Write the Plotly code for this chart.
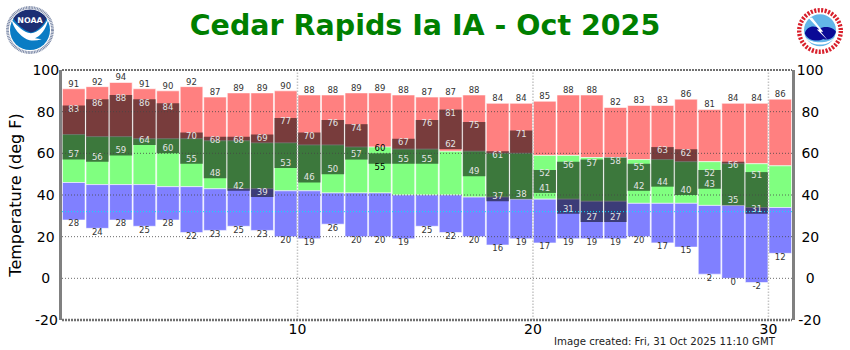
import base64
import plotly.graph_objects as go

days = list(range(1, 32))
record_high = [91,92,94,91,90,92,87,89,89,90,88,88,89,89,88,87,87,88,84,84,85,88,88,82,83,83,86,81,84,84,86]
normal_high = [69,68,68,67,67,67,66,66,65,65,64,64,63,63,62,62,61,61,60,60,59,59,58,58,57,57,56,56,55,55,54]
normal_low = [46,45,45,45,44,44,43,43,43,42,42,41,41,41,40,40,40,39,39,38,38,38,37,37,36,36,36,35,35,34,34]
record_low = [28,24,28,25,28,22,23,25,23,20,19,26,20,20,19,25,22,20,16,19,17,19,19,19,20,17,15,2,0,-2,12]
obs_high = [83,86,88,86,84,70,68,68,69,77,70,76,74,60,67,76,81,75,61,71,52,56,57,58,55,63,62,52,56,51,None]
obs_low = [57,56,59,64,60,55,48,42,39,53,46,50,57,55,55,55,62,49,37,38,41,31,27,27,42,44,40,43,35,31,None]
y_ticks = [-20,0,20,40,60,80,100]
x_ticks = [10,20,30]
title = "Cedar Rapids Ia IA - Oct 2025"
footer = "Image created: Fri, 31 Oct 2025 11:10 GMT"

FONT = "DejaVu Sans"
X = [d - 0.5 for d in days]
W, H = 850, 350
L, R, T, B = 62, 58, 70, 30
edge = dict(color="rgba(255,255,255,0.55)", width=1)

def band(top, bottom, color):
    return go.Bar(x=X, y=[a - b for a, b in zip(top, bottom)], base=bottom, width=0.96,
                  marker=dict(color=color, line=edge), hoverinfo="skip", showlegend=False)

fig = go.Figure()
fig.add_trace(band(record_high, normal_high, "#FF8080"))
fig.add_trace(band(normal_high, normal_low, "#80FF80"))
fig.add_trace(band(normal_low, record_low, "#8080FF"))

ox = [x for x, h in zip(X, obs_high) if h is not None]
oh = [h for h in obs_high if h is not None]
ol = [l for l in obs_low if l is not None]
fig.add_trace(go.Bar(x=ox, y=[a - b for a, b in zip(oh, ol)], base=ol, width=0.96,
                     marker=dict(color="rgba(0,0,0,0.53)", line=dict(width=0)),
                     hoverinfo="skip", showlegend=False))

def labels(xs, ys, pos, color):
    fig.add_trace(go.Scatter(x=xs, y=ys, text=[str(v) for v in ys], mode="text",
                             textposition=pos, textfont=dict(family=FONT, size=8.5, color=color),
                             hoverinfo="skip", showlegend=False, cliponaxis=False))

labels(X, record_high, "top center", "#333333")
labels(X, record_low, "bottom center", "#333333")
narrow = [a - b <= 5 for a, b in zip(oh, ol)]
labels(ox, oh, ["top center" if n else "bottom center" for n in narrow],
       ["#000000" if n else "#E4E4E4" for n in narrow])
labels(ox, ol, ["bottom center" if n else "top center" for n in narrow],
       ["#000000" if n else "#E4E4E4" for n in narrow])

# right-hand axis carrier
fig.add_trace(go.Scatter(x=[X[0], X[-1]], y=[y_ticks[0], y_ticks[-1]], yaxis="y2", mode="none",
                         hoverinfo="skip", showlegend=False))

# grid lines above the bars
for v in y_ticks[1:-1]:
    fig.add_shape(type="line", xref="x", yref="y", x0=0, x1=31, y0=v, y1=v, layer="above",
                  line=dict(color="rgba(70,70,70,0.8)", width=1, dash="1px,2px"))
for v in x_ticks:
    fig.add_shape(type="line", xref="x", yref="y", x0=v, x1=v, y0=-20, y1=100, layer="above",
                  line=dict(color="rgba(190,190,190,0.9)", width=1.5, dash="1.5px,1.5px"))
fig.add_shape(type="line", xref="x", yref="y", x0=0, x1=31, y0=32, y1=32, layer="above",
              line=dict(color="#00E5FF", width=1, dash="1px,2px"))
fig.add_shape(type="line", xref="paper", yref="paper", x0=0, x1=1, y0=1, y1=1, layer="above",
              line=dict(color="#707070", width=2, dash="2px,1px"))
fig.add_shape(type="line", xref="paper", yref="paper", x0=0, x1=1, y0=0, y1=0, layer="above",
              line=dict(color="#707070", width=2.5, dash="2px,1px"))

noaa = """<svg xmlns='http://www.w3.org/2000/svg' viewBox='0 0 60 60'>
<circle cx='30' cy='30' r='29.5' fill='#fff'/>
<circle cx='30' cy='30' r='27' fill='none' stroke='#7d8aa8' stroke-width='3.4' stroke-dasharray='1.2 .7'/>
<circle cx='30' cy='30' r='24' fill='#0a7cc4'/>
<path d='M10 16 A24 24 0 0 1 50 16 C46 25 38 32 31 33 C23 31 15 24 10 16Z' fill='#1c2f74'/>
<path d='M8 18 C15 25 22 33 31 34 C40 33 47 26 52 16 C50 29 42 38 36 40 L44 41 C37 43 30 43 26 41 C18 37 10 28 8 18Z' fill='#fff'/>
<text x='30' y='22' font-family='DejaVu Sans' font-weight='bold' font-size='9.5' fill='#fff' text-anchor='middle'>NOAA</text>
</svg>"""
nws = """<svg xmlns='http://www.w3.org/2000/svg' viewBox='0 0 60 60'>
<circle cx='30' cy='30' r='29.5' fill='#fff'/>
<circle cx='30' cy='30' r='26' fill='none' stroke='#d8202c' stroke-width='5.5' stroke-dasharray='2.6 1.8'/>
<circle cx='30' cy='29' r='20' fill='#63b5e8'/>
<path d='M11 33 C13 24 23 22 29 27 C36 23 47 25 50 31 C47 40 40 42 34 40 C27 44 15 42 11 33Z' fill='#0a0a96'/>
<path d='M16 14 L29 28 L26 28 L40 42 L31 31 L34 31 L20 13Z' fill='#fff'/>
<path d='M12 38 C20 50 40 50 48 38 C40 46 20 46 12 38Z' fill='#fff'/>
</svg>"""

def logo(svg, cx, cy, r):
    uri = "data:image/svg+xml;base64," + base64.b64encode(svg.encode()).decode()
    pw, ph = W - L - R, H - T - B
    return dict(source=uri, xref="paper", yref="paper", xanchor="left", yanchor="top",
                x=(cx - r - L) / pw, y=(H - B - (cy - r)) / ph, sizex=2 * r / pw, sizey=2 * r / ph,
                sizing="stretch", layer="above")

PAD = {100: "", 80: "\u2004", 60: "\u2004", 40: "\u2004", 20: "\u2004", 0: "\u2007", -20: "\u200A"}
axis_line = dict(showline=True, linecolor="#808080", linewidth=3, mirror=False)
fig.update_layout(
    width=W, height=H, margin=dict(l=L, r=R, t=T, b=B, pad=0),
    paper_bgcolor="white", plot_bgcolor="white", barmode="overlay", showlegend=False,
    font=dict(family=FONT, color="#000000"),
    title=dict(text=f"<b>{title}</b>", x=425 / W, xanchor="center", y=1 - 25 / H, yanchor="middle",
               font=dict(family=FONT, size=28.5, color="#007F00")),
    xaxis=dict(range=[0, 31], tickvals=x_ticks, ticktext=[str(v) for v in x_ticks], ticks="",
               showgrid=False, zeroline=False, showline=False, tickfont=dict(size=14),
               ticklabelstandoff=-1, automargin=False),
    yaxis=dict(range=[-20, 100], tickvals=y_ticks, ticktext=[str(v) + PAD[v] for v in y_ticks], ticks="",
               showgrid=False, zeroline=False, tickfont=dict(size=14), ticklabelstandoff=-3, automargin=False,
               title=dict(text="Temperature (deg F)", font=dict(size=16), standoff=7), **axis_line),
    yaxis2=dict(range=[-20, 100], overlaying="y", side="right", tickvals=y_ticks,
                ticktext=[PAD[v] + str(v) for v in y_ticks], ticks="", showgrid=False, zeroline=False,
                tickfont=dict(size=14), ticklabelstandoff=-1, automargin=False, **axis_line),
    annotations=[dict(text=footer, xref="paper", yref="paper", x=(778 - L) / (W - L - R),
                      y=-(341.5 - (H - B)) / (H - T - B), xanchor="right", yanchor="middle",
                      showarrow=False, xshift=0, font=dict(family=FONT, size=10.2, color="#222222"))],
    images=[logo(noaa, 30, 30, 25), logo(nws, 820, 31, 24)],
)
fig.write_html("out.html", post_script="document.body.style.margin='0';document.body.style.overflow='hidden';",
               config=dict(displayModeBar=False))
